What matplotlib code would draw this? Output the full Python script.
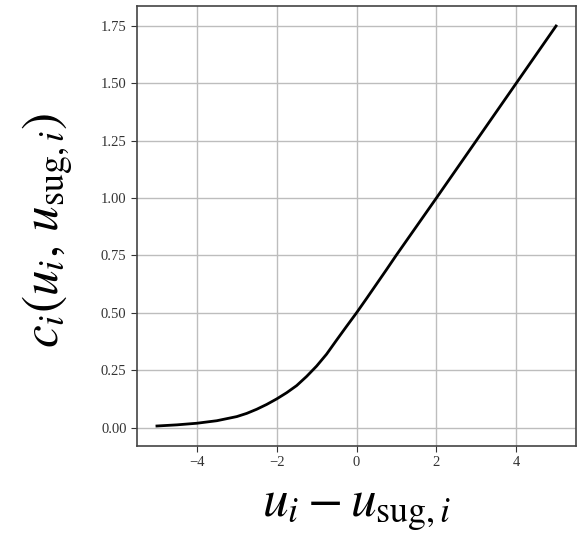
import numpy as np
import matplotlib.pyplot as plt

# values
u_diff = [-5.0, -4.5, -4.0, -3.5, -3.0, -2.75, -2.5, -2.25, -2.0, -1.75, -1.5, -1.25,
          -1.0, -0.75, -0.5, -0.25, 0.0, 0.25, 0.5, 0.75, 1.0, 1.5, 2.0, 3.0, 4.0, 5.0]
cost = [0.007, 0.012, 0.019, 0.030, 0.048, 0.062, 0.080, 0.101, 0.125, 0.152, 0.183, 0.223,
        0.268, 0.320, 0.381, 0.441, 0.500, 0.562, 0.625, 0.688, 0.752, 0.876, 1.000,
        1.250, 1.500, 1.750]

plt.rcParams['font.family'] = ['Liberation Serif', 'DejaVu Serif']
plt.rcParams['mathtext.fontset'] = 'stix'

fig = plt.figure(figsize=(5.77, 5.43), dpi=100)
ax = fig.add_axes([137 / 577, 97 / 543, 439 / 577, 440 / 543])

ax.plot(u_diff, cost, color='black', linewidth=2)
ax.grid(True, color='#bdbdbd', linewidth=1)
ax.set_axisbelow(True)

ax.tick_params(labelsize=10.5, colors='#333333', length=4)
for s in ax.spines.values():
    s.set_color('#444444')
    s.set_linewidth(1.2)

ax.set_xticks([-4, -2, 0, 2, 4])
ax.set_yticks([0.0, 0.25, 0.5, 0.75, 1.0, 1.25, 1.5, 1.75])

ax.set_xlabel(r'$u_i - u_{\mathrm{sug},i}$', fontsize=37, labelpad=13)
ax.set_ylabel(r'$c_i(u_i,\, u_{\mathrm{sug},i})$', fontsize=37)
ax.yaxis.set_label_coords(-0.138, 0.49)

fig.savefig('out.png', dpi=100)
